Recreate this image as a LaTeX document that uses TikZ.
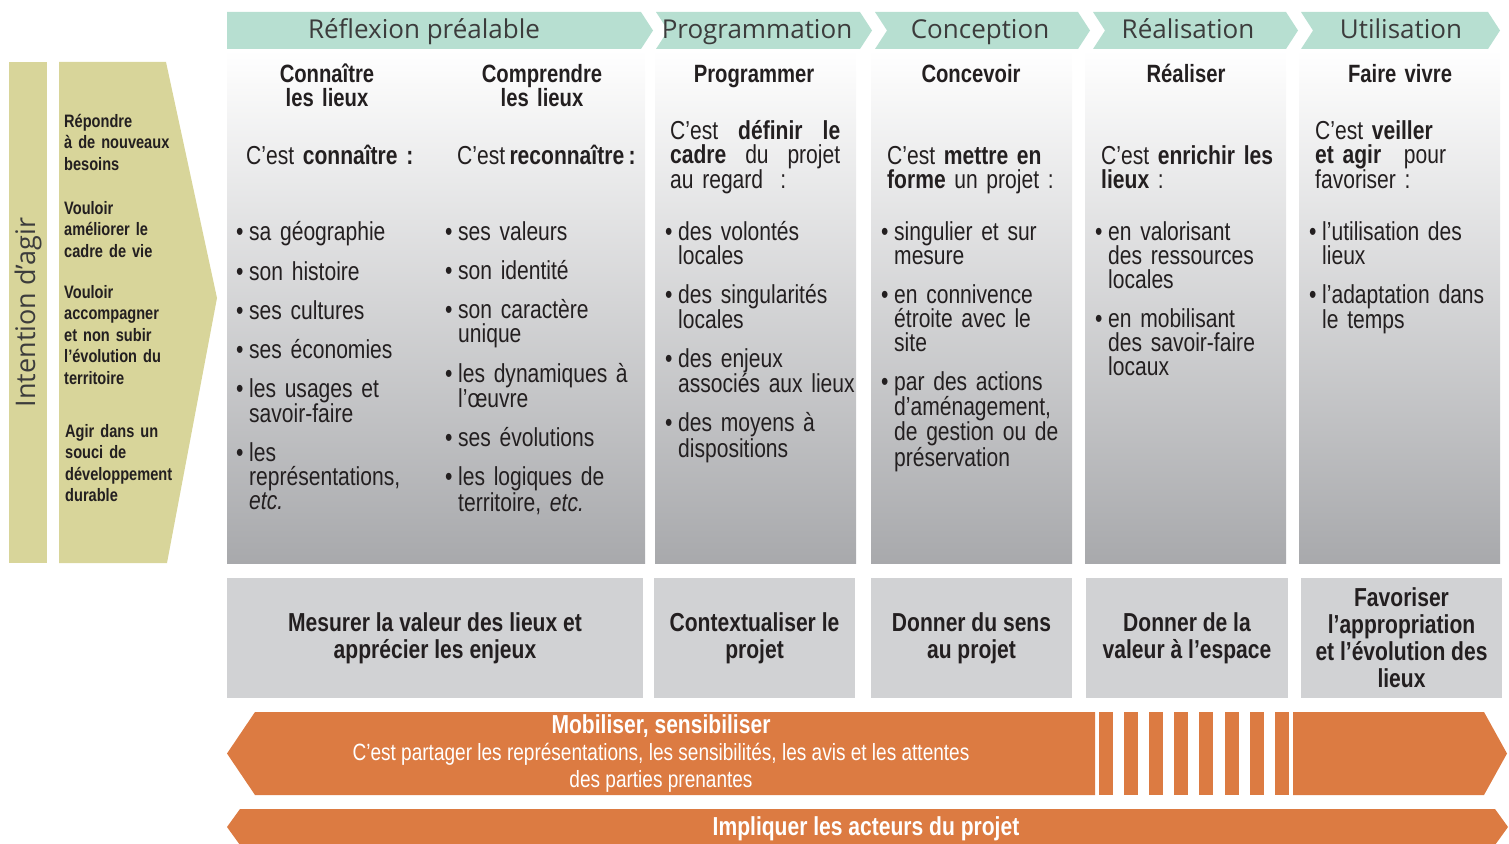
\documentclass[tikz,border=0pt]{standalone}
\usepackage{fontspec}
\setmainfont{Liberation Sans}[FakeStretch=0.81]
\newfontfamily\headfont{Open Sans}
\usepackage{tikz}
\usetikzlibrary{shapes,positioning}
\usepackage{xcolor}
\definecolor{dfmint}{RGB}{183,223,209}
\definecolor{dfkhaki}{RGB}{216,213,154}
\definecolor{dforange}{RGB}{220,123,66}
\definecolor{dfbox}{RGB}{209,210,212}
\definecolor{dfpanel}{RGB}{168,169,172}
\definecolor{dftext}{RGB}{35,31,32}
\definecolor{dfhead}{RGB}{60,60,60}
\newcommand{\bodyfont}{\fontsize{26}{24}\selectfont}
\newcommand{\bul}{\makebox[13pt][l]{\textbullet}}
\newcommand{\cont}{\hspace*{13pt}}
\tikzstyle{phase} = [inner sep=0pt, text=dfhead, text height=19pt, text depth=2pt, font=\headfont\fontsize{26}{28}\selectfont]
\tikzstyle{panel} = [rectangle, top color=white, bottom color=dfpanel, minimum height=513pt, inner sep=0pt]
\tikzstyle{coltitle} = [anchor=base, text width=200pt, align=center, inner sep=0pt, font=\bfseries\fontsize{25}{24}\selectfont]
\tikzstyle{leadtext} = [anchor=base west, text width=200pt, inner sep=0pt, font=\bodyfont]
\tikzstyle{itemlist} = [anchor=base west, text width=195pt, inner sep=0pt, font=\bodyfont]
\tikzstyle{aimtext} = [anchor=base west, text width=118pt, inner sep=0pt, font=\bfseries\fontsize{18}{21.5}\selectfont]
\tikzstyle{goalbox} = [rectangle, fill=dfbox, minimum height=120pt, inner sep=0pt, align=center, font=\bfseries\fontsize{26}{27}\selectfont]
\tikzstyle{bartext} = [text=white, inner sep=0pt, align=center]
\begin{document}
\begin{tikzpicture}[x=1pt, y=-1pt, text=dftext]
\path[use as bounding box, clip] (0,0) rectangle (1509,843);

% Phases
\fill[dfmint] (227,12) -- (641,12) -- (653,30.5) -- (641,49) -- (227,49) -- cycle;
\foreach \xa/\xb in {656/872, 875/1090, 1093/1298, 1301/1500}
  \fill[dfmint] (\xa,12) -- (\xb-12,12) -- (\xb,30.5) -- (\xb-12,49) -- (\xa,49) -- (\xa+12,30.5) -- cycle;
\node[phase] (ph1) at (424,30.5) {Réflexion préalable};
\node[phase] (ph2) at (757,30.5) {Programmation};
\node[phase] (ph3) at (980,30.5) {Conception};
\node[phase] (ph4) at (1188,30.5) {Réalisation};
\node[phase] (ph5) at (1401,30.5) {Utilisation};

% Intention
\node[rectangle, fill=dfkhaki, minimum width=501pt, minimum height=38pt, inner sep=0pt, rotate=90,
      text=dfhead, font=\headfont\fontsize{27}{28}\selectfont] (intent) at (28,312.5) {Intention d’agir};
\fill[dfkhaki] (59,62) -- (166,62) -- (217,298) -- (167,563) -- (59,563) -- cycle;
\node[aimtext] (aim1) at (64,127) {Répondre\\à de nouveaux\\besoins};
\node[aimtext] (aim2) at (64,214) {Vouloir\\améliorer le\\cadre de vie};
\node[aimtext] (aim3) at (64,298) {Vouloir\\accompagner\\et non subir\\l’évolution du\\territoire};
\node[aimtext] (aim4) at (65,437) {Agir dans un\\souci de\\développement\\durable};

% Columns
\node[panel, minimum width=418pt] (colA) at (436,306.5) {};
\node[panel, minimum width=201pt] (colB) at (755.5,306.5) {};
\node[panel, minimum width=201pt] (colC) at (971.5,306.5) {};
\node[panel, minimum width=201pt] (colD) at (1185.5,306.5) {};
\node[panel, minimum width=201pt] (colE) at (1399.5,306.5) {};

% Titles
\node[coltitle] (titA) at (327,82) {Connaître\\les lieux};
\node[coltitle] (titA2) at (542,82) {Comprendre\\les lieux};
\node[coltitle] (titB) at (754,82) {Programmer};
\node[coltitle] (titC) at (971,82) {Concevoir};
\node[coltitle] (titD) at (1186,82) {Réaliser};
\node[coltitle] (titE) at (1400,82) {Faire vivre};

% Leads
\node[leadtext] (leadA) at (246,164) {C’est \textbf{connaître :}};
\node[leadtext] (leadA2) at (457,164) {C’est\,\textbf{reconnaître\,:}};
\node[leadtext] (leadB) at (670,139) {\makebox[170pt][l]{C’est\hfill\textbf{définir}\hfill\textbf{le}}\\
  \makebox[170pt][l]{\textbf{cadre}\hfill du\hfill projet}\\au regard\ \ :};
\node[leadtext] (leadC) at (887,164) {C’est \textbf{mettre en}\\\textbf{forme} un projet :};
\node[leadtext] (leadD) at (1101,164) {C’est \textbf{enrichir les}\\\textbf{lieux} :};
\node[leadtext] (leadE) at (1315,139) {C’est \textbf{veiller}\\\textbf{et agir}\hspace{14pt} pour\\favoriser :};

% Items
\node[itemlist] (listA) at (236,240) {\bul sa géographie\\[15pt]\bul son histoire\\[15pt]\bul ses cultures\\[15pt]
  \bul ses économies\\[15pt]\bul les usages et\\\cont savoir-faire\\[15pt]\bul les\\\cont représentations,\\\cont\textit{etc.}};
\node[itemlist] (listA2) at (445,240) {\bul ses valeurs\\[15pt]\bul son identité\\[15pt]\bul son caractère\\\cont unique\\[15pt]
  \bul les dynamiques à\\\cont l’œuvre\\[15pt]\bul ses évolutions\\[15pt]\bul les logiques de\\\cont territoire, \textit{etc.}};
\node[itemlist] (listB) at (665,240) {\bul des volontés\\\cont locales\\[15pt]\bul des singularités\\\cont locales\\[15pt]
  \bul des enjeux\\\cont associés aux lieux\\[15pt]\bul des moyens à\\\cont dispositions};
\node[itemlist] (listC) at (881,240) {\bul singulier et sur\\\cont mesure\\[15pt]\bul en connivence\\\cont étroite avec le\\\cont site\\[15pt]
  \bul par des actions\\\cont d’aménagement,\\\cont de gestion ou de\\\cont préservation};
\node[itemlist] (listD) at (1095,240) {\bul en valorisant\\\cont des ressources\\\cont locales\\[15pt]
  \bul en mobilisant\\\cont des savoir-faire\\\cont locaux};
\node[itemlist] (listE) at (1309,240) {\bul l’utilisation des\\\cont lieux\\[15pt]\bul l’adaptation dans\\\cont le temps};

% Goals
\node[goalbox, minimum width=416pt] (goalA) at (435,638) {Mesurer la valeur des lieux et\\apprécier les enjeux};
\node[goalbox, minimum width=201pt] (goalB) at (754.5,638) {Contextualiser le\\projet};
\node[goalbox, minimum width=201pt] (goalC) at (971.5,638) {Donner du sens\\au projet};
\node[goalbox, minimum width=202pt] (goalD) at (1187,638) {Donner de la\\valeur à l’espace};
\node[goalbox, minimum width=201pt] (goalE) at (1401.5,638) {Favoriser\\l’appropriation\\et l’évolution des\\lieux};

% Bars
\fill[dforange] (227,753.5) -- (255,712) -- (1095,712) -- (1095,795) -- (255,795) -- cycle;
\foreach \i in {0,...,7}
  \fill[dforange] (1099+25.1*\i,712) rectangle ++(14,83);
\fill[dforange] (1293,712) -- (1484,712) -- (1507,753.5) -- (1484,795) -- (1293,795) -- cycle;
\node[bartext, font=\fontsize{23.5}{27}\selectfont] (mobil) at (661,753.5)
  {{\bfseries\fontsize{26}{27}\selectfont Mobiliser, sensibiliser}\\
   C’est partager les représentations, les sensibilités, les avis et les attentes\\
   des parties prenantes};
\fill[dforange] (227,827) -- (240,809) -- (1495,809) -- (1508,827) -- (1495,845) -- (240,845) -- cycle;
\node[bartext, font=\bfseries\fontsize{26}{27}\selectfont] (impl) at (866,829) {Impliquer les acteurs du projet};
\end{tikzpicture}
\end{document}
